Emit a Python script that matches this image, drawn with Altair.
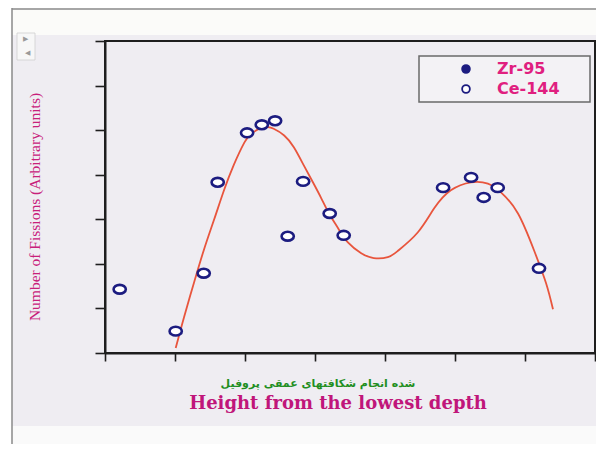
import altair as alt
import pandas as pd

# ---- data ----
pt_x = [0.21, 1.01, 1.41, 1.61, 2.03, 2.24, 2.43, 2.61, 2.83, 3.21, 3.41, 4.83, 5.23, 5.41, 5.61, 6.20]
pt_y = [1.43, 0.49, 1.79, 3.83, 4.94, 5.12, 5.21, 2.62, 3.85, 3.13, 2.64, 3.71, 3.94, 3.49, 3.71, 1.90]
pt_series = ["Ce-144"] * len(pt_x)

curve_x = [1.01, 1.13, 1.27, 1.41, 1.56, 1.70, 1.84, 1.99, 2.09, 2.23, 2.33, 2.41, 2.56, 2.70,
           2.84, 2.97, 3.09, 3.20, 3.33, 3.47, 3.66, 3.84, 4.04, 4.19, 4.47, 4.70, 4.94, 5.23,
           5.47, 5.66, 5.90, 6.13, 6.30, 6.40]
curve_y = [0.11, 0.81, 1.57, 2.30, 3.00, 3.65, 4.22, 4.72, 4.92, 5.05, 5.07, 5.03, 4.88, 4.61,
           4.21, 3.83, 3.47, 3.13, 2.80, 2.48, 2.24, 2.13, 2.15, 2.30, 2.71, 3.24, 3.65, 3.83,
           3.80, 3.60, 3.13, 2.30, 1.57, 0.98]

series_names = ["Zr-95", "Ce-144"]
series_fill = ["#1c1c80", "#ffffff"]
ticks = [0, 1, 2, 3, 4, 5, 6, 7]

y_title = "Number of Fissions (Arbitrary units)"
x_title_en = "Height from the lowest depth"
# words laid out left-to-right as they appear in the picture
x_title_fa = "شده انجام شکافتهای عمقی پروفیل"

pts = pd.DataFrame({"x": pt_x, "y": pt_y, "series": pt_series})
crv = pd.DataFrame({"x": curve_x, "y": curve_y})
one = pd.DataFrame({"a": [0]})

xs = alt.Scale(domain=[0, 7], nice=False, zero=False)
ys = alt.Scale(domain=[0, 7], nice=False, zero=False)

axis_common = dict(values=ticks, labels=False, grid=False, title=None,
                   domainColor="#1e1e1e", domainWidth=2, tickColor="#1e1e1e",
                   tickWidth=1.6, zindex=1)

white_top = alt.Chart(one).mark_rect(color="#fbfbf9").encode(
    x=alt.value(-97), x2=alt.value(491), y=alt.value(-33), y2=alt.value(-6))
white_bot = alt.Chart(one).mark_rect(color="#fafafa").encode(
    x=alt.value(-97), x2=alt.value(491), y=alt.value(385), y2=alt.value(403))
white_left = alt.Chart(one).mark_rect(color="#ffffff").encode(
    x=alt.value(-97), x2=alt.value(-93), y=alt.value(-33), y2=alt.value(403))
frame_left = alt.Chart(one).mark_rule(color="#8a8a8a", strokeWidth=1.5).encode(
    x=alt.value(-93), y=alt.value(-33), y2=alt.value(403))
frame_top = alt.Chart(one).mark_rule(color="#8a8a8a", strokeWidth=1.5).encode(
    x=alt.value(-93), x2=alt.value(491), y=alt.value(-32))

arrow_box = alt.Chart(one).mark_rect(color="#f7f7f7", stroke="#cfcfcf", strokeWidth=0.8).encode(
    x=alt.value(-88), x2=alt.value(-70), y=alt.value(-8), y2=alt.value(19))
arrow1 = alt.Chart(one).mark_text(text="▶", color="#9a9a9a", fontSize=7).encode(
    x=alt.value(-80), y=alt.value(-2))
arrow2 = alt.Chart(one).mark_text(text="◀", color="#9a9a9a", fontSize=7).encode(
    x=alt.value(-78), y=alt.value(12))

ytitle = alt.Chart(one).mark_text(text=y_title, angle=270, font="Liberation Serif",
                                  fontSize=15.5, color="#c8207a").encode(
    x=alt.value(-70), y=alt.value(166))
xtitle_fa = alt.Chart(one).mark_text(text=x_title_fa, font="DejaVu Sans", fontWeight="bold",
                                     fontSize=11, color="#1f8f1f").encode(
    x=alt.value(213), y=alt.value(343))
xtitle_en = alt.Chart(one).mark_text(text=x_title_en, font="DejaVu Serif", fontWeight="bold",
                                     fontSize=18, color="#c0167a").encode(
    x=alt.value(233), y=alt.value(363))

curve = alt.Chart(crv).mark_line(color="#e8553d", strokeWidth=1.8, interpolate="natural").encode(
    x=alt.X("x:Q", scale=xs, axis=alt.Axis(orient="bottom", tickSize=8, **axis_common)),
    y=alt.Y("y:Q", scale=ys, axis=alt.Axis(orient="left", tickSize=10, **axis_common)),
)

points = alt.Chart(pts).mark_point(
    filled=True, stroke="#1c1c80", strokeWidth=2.6, opacity=1, size=150,
    shape="M -1 0 A 1 0.72 0 1 1 1 0 A 1 0.72 0 1 1 -1 0 Z",
).encode(
    x=alt.X("x:Q", scale=xs),
    y=alt.Y("y:Q", scale=ys),
    fill=alt.Fill("series:N", scale=alt.Scale(domain=series_names, range=series_fill),
                  legend=alt.Legend(
                      title=None, orient="none", legendX=314, legendY=15,
                      padding=5, symbolOffset=34, labelOffset=23,
                      symbolType="circle", symbolSize=60, symbolStrokeWidth=1.8,
                      symbolStrokeColor="#1c1c80",
                      labelFont="DejaVu Sans", labelFontWeight="bold",
                      labelFontSize=16, labelColor="#e0207f",
                      labelExpr="datum.label + '\u2800\u2800'",
                      fillColor="#f3f2f5",
                  )),
)

chart = alt.layer(
    white_top, white_bot, white_left, frame_left, frame_top,
    arrow_box, arrow1, arrow2,
    ytitle, xtitle_fa, xtitle_en, curve, points,
).properties(
    width=490, height=312,
    padding={"left": 97, "top": 33, "right": 1, "bottom": 91},
    autosize=alt.AutoSizeParams(type="none"),
).configure(background="#efedf2").configure_view(
    stroke="#1e1e1e", strokeWidth=2
).configure_legend(
    strokeColor="#6a6a6a", strokeWidth=1.5, rowPadding=4
)

chart.save("out.html", embed_options={"renderer": "svg", "actions": False})
